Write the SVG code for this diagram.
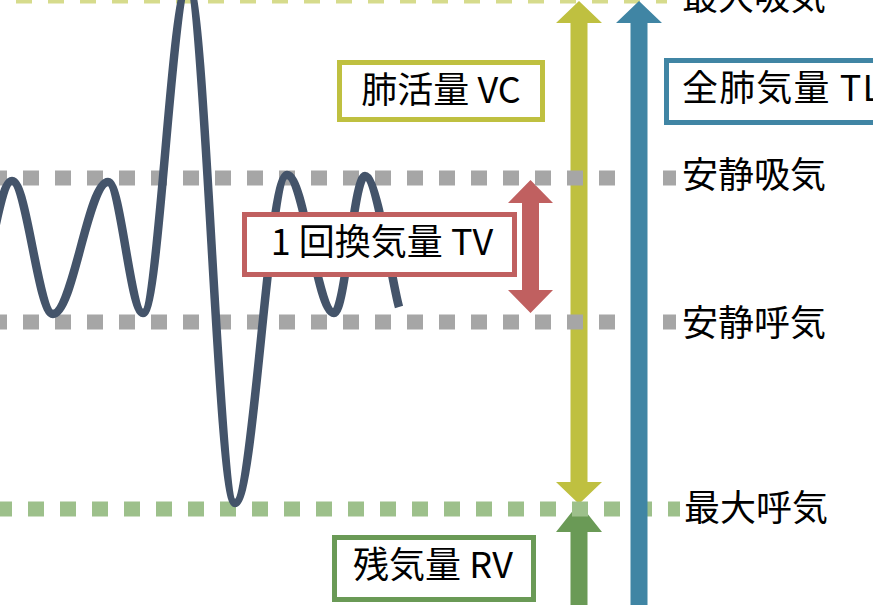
<svg xmlns="http://www.w3.org/2000/svg" width="873" height="605" viewBox="0 0 873 605">
  <style>
    .lbl { font-family: "Noto Sans CJK JP", "Noto Sans", sans-serif; font-size: 36px; fill: #000000; }
    .box { fill: #ffffff; stroke-width: 5; }
    .dash { stroke-width: 15; stroke-dasharray: 16 16; fill: none; }
  </style>
  <rect x="0" y="0" width="873" height="605" fill="#ffffff"/>

  <g id="connectors">
    <polygon id="arrow-vc" fill="#bfc040" points="579,1 602,23 587.5,23 587.5,482 602,482 579,504 556,482 570.5,482 570.5,23 556,23"/>
    <polygon id="arrow-rv" fill="#6a9a56" points="579,503 602,532 587.5,532 587.5,610 570.5,610 570.5,532 556,532"/>
    <polygon id="arrow-tv" fill="#c06060" points="530.5,180 553,203 539,203 539,290 553,290 530.5,313 508,290 522,290 522,203 508,203"/>
  </g>

  <g id="levels">
    <line class="dash" x1="16" y1="-4" x2="667" y2="-4" stroke="#d6db8c"/>
    <line class="dash" x1="-9" y1="178" x2="676" y2="178" stroke="#a6a6a6"/>
    <line class="dash" x1="-9" y1="322" x2="676" y2="322" stroke="#a6a6a6"/>
    <line class="dash" x1="-4" y1="509" x2="680" y2="509" stroke="#9dc08b"/>
  </g>

  <g id="arrow-tl-group">
    <polygon id="arrow-tl" fill="#4085a4" points="639,1 662,23 647.5,23 647.5,610 630.5,610 630.5,23 616,23"/>
  </g>

  <g id="wave">
    <path fill="none" stroke="#44546a" stroke-width="8.5" stroke-linecap="butt" stroke-linejoin="round"
      d="M -30,314 C -14.7,314 -3.3,181 12,181 C 26.9,181 38.1,314 53,314 C 73,314 88,182 108,182 C 120.7,182 130.3,313 143,313 C 159.4,313 171.6,-15 188,-15 C 205.1,-15 217.9,503 235,503 C 253.9,503 268.1,175 287,175 C 304.1,175 316.9,313 334,313 C 345.3,313 353.7,176 365,176 C 377,176 392,283 399,307"/>
  </g>

  <g id="node-vc">
    <rect class="box" x="339.5" y="62.5" width="203" height="57" stroke="#bfc040"/>
    <text class="lbl" x="441" y="102.5" text-anchor="middle">肺活量 VC</text>
  </g>
  <g id="node-tl">
    <rect class="box" x="666.5" y="60.5" width="240" height="62" stroke="#4085a4"/>
    <text class="lbl" x="682" y="100.5" textLength="200">全肺気量 TL</text>
  </g>
  <g id="node-tv">
    <rect class="box" x="244.5" y="214.5" width="270" height="60" stroke="#c06060"/>
    <text class="lbl" x="382" y="255" text-anchor="middle">1 回換気量 TV</text>
  </g>
  <g id="node-rv">
    <rect class="box" x="334.5" y="537.5" width="199" height="62" stroke="#6a9a56"/>
    <text class="lbl" x="433" y="577.5" text-anchor="middle">残気量 RV</text>
  </g>

  <g id="level-labels">
    <text class="lbl" x="682" y="9.5">最大吸気</text>
    <text class="lbl" x="682" y="187.5">安静吸気</text>
    <text class="lbl" x="682" y="335.5">安静呼気</text>
    <text class="lbl" x="684" y="521">最大呼気</text>
  </g>
</svg>
